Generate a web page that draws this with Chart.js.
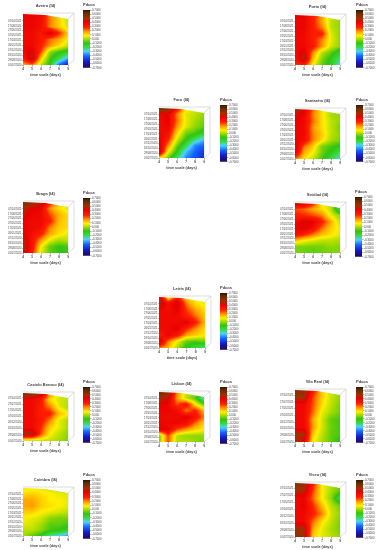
<!DOCTYPE html>
<html>
<head>
<meta charset="utf-8">
<title>Pdcca</title>
<script src="https://cdn.jsdelivr.net/npm/chart.js@4/dist/chart.umd.min.js"></script>
<style>
    html, body { margin: 0; padding: 0; background: #fff; }
    #page { position: relative; width: 381px; height: 550px; overflow: hidden; }
    canvas { position: absolute; }
</style>
</head>
<body>
<div id="page"></div>
<script>
const timeScales = ['4', '5', '6', '7', '8', '9'];
const datesLong = ['07/10/2021', '17/08/2021', '27/06/2021', '07/05/2021', '17/03/2021', '26/01/2021', '07/12/2020', '18/10/2020', '29/08/2020', '01/07/2020'];
const datesShort = ['07/10/2021', '27/07/2021', '17/05/2021', '07/03/2021', '26/12/2020', '18/10/2020', '29/08/2020', '01/07/2020'];
const barTicks = [0.7, 0.6, 0.5, 0.4, 0.3, 0.2, 0.1, 0, -0.1, -0.2, -0.3, -0.4, -0.5, -0.6, -0.7];

const colorValues = [-0.7, -0.55, -0.42, -0.3, -0.2, -0.1, 0, 0.08, 0.18, 0.28, 0.42, 0.5, 0.62, 0.7];
const colorList = ['#1c0a5a', '#1818c8', '#1464ff', '#50d0ff', '#38dc38', '#30c414', '#a8dc00', '#fff000', '#ff9800', '#ff2000', '#e80000', '#a03000', '#6a2c00', '#2a1a08'];

const aveiro = [
    [.42, .42, .38, .2, .12, .02],
    [.4, .4, .36, .2, .12, .02],
    [.4, .4, .36, .2, .12, .04],
    [.38, .38, .32, .45, .28, .12],
    [.38, .38, .32, .22, .16, .08],
    [.38, .38, .3, .18, .1, .02],
    [.38, .45, .25, -.02, -.1, -.15],
    [.3, .48, .12, -.08, -.2, -.35],
    [.15, .2, .02, -.12, -.42, -.55]
];
const porto = [
    [.42, .42, .3, .18, .04, 0],
    [.4, .4, .3, .16, .02, -.02],
    [.4, .4, .3, .2, .02, -.02],
    [.38, .38, .3, .3, .05, -.02],
    [.38, .38, .3, .2, .06, -.02],
    [.38, .38, .32, .18, .04, -.02],
    [.36, .45, .2, .02, -.06, -.16],
    [.34, .5, .14, -.03, -.12, -.24],
    [.25, .3, .08, -.06, -.14, -.3]
];
const faro = [
    [.6, .58, .35, .1, .05, .02],
    [.38, .42, .2, .05, .02, -.02],
    [.36, .42, .22, .06, 0, -.04],
    [.36, .4, .18, .05, -.02, -.06],
    [.38, .35, .12, -.04, -.08, -.15],
    [.42, .3, .05, -.1, -.22, -.32],
    [.45, .2, -.04, -.2, -.38, -.42],
    [.5, .08, -.12, -.32, -.42, -.5],
    [.1, -.05, -.22, -.38, -.45, -.52]
];
const santarem = [
    [.52, .45, .22, .1, .02, -.02],
    [.44, .4, .2, .1, 0, -.02],
    [.42, .38, .22, .1, .02, -.02],
    [.4, .38, .18, .1, .02, -.04],
    [.4, .38, .2, .12, .02, -.02],
    [.42, .36, .2, .1, 0, -.04],
    [.48, .22, .12, -.04, -.08, -.12],
    [.45, .15, .08, -.05, -.12, -.22],
    [.2, .1, .02, -.08, -.2, -.3]
];
const braga = [
    [.58, .56, .5, .32, .12, .06],
    [.5, .42, .4, .18, .1, .05],
    [.45, .4, .38, .25, .15, .1],
    [.42, .38, .38, .3, .14, .1],
    [.42, .38, .36, .2, .12, .1],
    [.42, .36, .3, .16, .1, .06],
    [.48, .34, .18, .06, 0, .02],
    [.5, .34, .08, -.06, -.1, -.08],
    [.5, .3, .05, -.06, -.1, -.1]
];
const setubal = [
    [.5, .45, .3, .08, 0, -.15],
    [.25, .22, .16, .1, .02, -.22],
    [.3, .28, .25, .2, .06, -.02],
    [.36, .44, .42, .3, .16, .02],
    [.4, .44, .36, .22, .12, .06],
    [.36, .3, .22, .14, .1, .05],
    [.14, .08, .05, .02, .02, 0],
    [-.04, -.04, -.05, -.04, -.02, -.03],
    [-.04, -.05, -.06, -.05, -.04, -.03]
];
const leiria = [
    [.55, .05, .3, .1, .06, .04],
    [.5, .35, .46, .2, .1, .06],
    [.4, .36, .42, .26, .16, .1],
    [.38, .38, .38, .3, .22, .12],
    [.38, .38, .38, .42, .3, .14],
    [.36, .38, .42, .28, .18, .1],
    [.3, .4, .32, .16, .12, .08],
    [.5, .2, .06, -.06, -.08, -.05],
    [.2, .14, 0, -.12, -.2, -.25]
];
const casteloBranco = [
    [.6, .58, .5, .2, .06, -.02],
    [.38, .38, .32, .1, .04, .02],
    [.38, .38, .3, .2, .06, 0],
    [.38, .38, .3, .3, .14, .08],
    [.38, .38, .32, .2, .06, 0],
    [.38, .38, .28, .12, .06, 0],
    [.5, .5, .24, .08, .02, -.02],
    [.02, 0, .02, .02, 0, -.04]
];
const lisbon = [
    [.6, .56, .2, .04, -.02, -.1],
    [.5, .45, .18, .02, -.06, -.3],
    [.42, .4, .24, .35, .1, -.05],
    [.4, .4, .38, .2, .3, .15],
    [.38, .38, .38, .42, .35, .2],
    [.4, .38, .4, .36, .22, .12],
    [.42, .4, .25, .18, .12, .08],
    [-.05, .25, .02, -.02, -.02, -.02],
    [-.05, .25, 0, .02, -.02, -.04]
];
const vilaReal = [
    [.55, .55, .32, .12, .04, -.02],
    [.5, .5, .25, .12, .03, -.02],
    [.38, .38, .24, .1, .02, -.04],
    [.38, .38, .22, .06, 0, -.05],
    [.38, .38, .16, .04, -.06, -.08],
    [.38, .38, .18, .04, -.05, -.08],
    [.5, .5, .12, .02, -.06, -.08],
    [.5, .42, .08, 0, -.06, -.12]
];
const coimbra = [
    [.06, .06, .05, .03, .02, -.05],
    [.1, .12, .1, .08, .06, .05],
    [.16, .16, .12, .08, .08, .06],
    [.16, .18, .12, .1, .08, .06],
    [.12, .12, .08, .06, .04, .02],
    [.08, .06, .04, -.02, -.04, -.04],
    [.06, .04, 0, -.06, -.06, -.08],
    [.02, .02, -.02, -.08, -.1, -.14],
    [0, -.06, -.12, -.26, -.3, -.38]
];
const viseu = [
    [.55, .55, .3, .08, .02, -.04],
    [.5, .48, .26, .08, 0, -.06],
    [.38, .4, .22, .08, -.02, -.2],
    [.38, .42, .28, .14, .02, -.04],
    [.38, .38, .3, .2, .04, -.02],
    [.38, .38, .22, .1, .02, -.04],
    [.52, .5, .16, .06, 0, -.04],
    [.52, .5, .12, .06, .02, -.02]
];

// where each panel sits on the page
const panels = [
    { name: 'Aveiro (I4)', rows: aveiro, dates: datesLong, x: 23, y: 14, w: 45, h: 51, bx: 83, by: 10, bh: 58 },
    { name: 'Porto (I4)', rows: porto, dates: datesLong, x: 295, y: 15, w: 45, h: 50, bx: 356, by: 10, bh: 58 },
    { name: 'Faro (I4)', rows: faro, dates: datesLong, x: 159, y: 108, w: 45, h: 50, bx: 220, by: 105, bh: 57 },
    { name: 'Santarém (I4)', rows: santarem, dates: datesLong, x: 295, y: 109, w: 45, h: 50, bx: 356, by: 105, bh: 57 },
    { name: 'Braga (I4)', rows: braga, dates: datesLong, x: 23, y: 202, w: 45, h: 51, bx: 83, by: 198, bh: 58 },
    { name: 'Setúbal (I4)', rows: setubal, dates: datesLong, x: 295, y: 203, w: 45, h: 50, bx: 355, by: 197, bh: 60 },
    { name: 'Leiria (I4)', rows: leiria, dates: datesLong, x: 159, y: 297, w: 46, h: 51, bx: 220, by: 293, bh: 57 },
    { name: 'Castelo Branco (I4)', rows: casteloBranco, dates: datesShort, x: 23, y: 393, w: 45, h: 48, bx: 83, by: 387, bh: 56 },
    { name: 'Lisbon (I4)', rows: lisbon, dates: datesLong, x: 159, y: 392, w: 45, h: 50, bx: 220, by: 387, bh: 57 },
    { name: 'Vila Real (I4)', rows: vilaReal, dates: datesShort, x: 295, y: 390, w: 45, h: 52, bx: 356, by: 387, bh: 56 },
    { name: 'Coimbra (I4)', rows: coimbra, dates: datesLong, x: 23, y: 488, w: 45, h: 48, bx: 83, by: 480, bh: 59 },
    { name: 'Viseu (I4)', rows: viseu, dates: datesShort, x: 295, y: 483, w: 45, h: 54, bx: 356, by: 480, bh: 58 }
];

const fontName = '"Liberation Sans", Arial, sans-serif';
const textColor = '#444';
const frameColor = '#cfcfcf';
const page = document.getElementById('page');

function hexToRgb(hex) {
    return [1, 3, 5].map(i => parseInt(hex.substr(i, 2), 16));
}

function colorFor(v) {
    let i = 0;
    while (i < colorValues.length - 2 && v > colorValues[i + 1]) i++;
    const t = Math.min(1, Math.max(0, (v - colorValues[i]) / (colorValues[i + 1] - colorValues[i])));
    const a = hexToRgb(colorList[i]);
    const b = hexToRgb(colorList[i + 1]);
    return a.map((c, k) => Math.round(c + (b[k] - c) * t));
}

// paints the surface from the dataset, pixel by pixel through the scales
const surfacePlugin = {
    id: 'surface',
    beforeDatasetsDraw(chart) {
        const area = chart.chartArea;
        const xs = chart.scales.x;
        const ys = chart.scales.y;
        const points = chart.data.datasets[0].data;
        const nCols = timeScales.length;
        const nRows = points.length / nCols;
        const w = Math.round(area.right - area.left);
        const h = Math.round(area.bottom - area.top);
        const off = document.createElement('canvas');
        off.width = w;
        off.height = h;
        const offCtx = off.getContext('2d');
        const img = offCtx.createImageData(w, h);
        for (let py = 0; py < h; py++) {
            const yv = Math.max(0, Math.min(nRows - 1, ys.getValueForPixel(area.top + py + 0.5)));
            const r0 = Math.min(nRows - 2, Math.floor(yv));
            for (let px = 0; px < w; px++) {
                const xv = Math.max(0, Math.min(nCols - 1, xs.getValueForPixel(area.left + px + 0.5)));
                const c0 = Math.min(nCols - 2, Math.floor(xv));
                const tx = xv - c0;
                const ty = yv - r0;
                const v = points[r0 * nCols + c0].v * (1 - tx) * (1 - ty)
                    + points[r0 * nCols + c0 + 1].v * tx * (1 - ty)
                    + points[(r0 + 1) * nCols + c0].v * (1 - tx) * ty
                    + points[(r0 + 1) * nCols + c0 + 1].v * tx * ty;
                const rgb = colorFor(v);
                const k = (py * w + px) * 4;
                img.data[k] = rgb[0];
                img.data[k + 1] = rgb[1];
                img.data[k + 2] = rgb[2];
                img.data[k + 3] = 255;
            }
        }
        offCtx.putImageData(img, 0, 0);

        const ctx = chart.ctx;
        // back of the 3d box
        ctx.save();
        ctx.strokeStyle = frameColor;
        ctx.lineWidth = 0.7;
        ctx.beginPath();
        ctx.moveTo(area.left, area.top - 1);
        ctx.lineTo(area.right + 6, area.top - 1);
        ctx.lineTo(area.right + 6, area.bottom - 5);
        ctx.lineTo(area.right, area.bottom);
        ctx.moveTo(area.right, area.top + 5);
        ctx.lineTo(area.right + 6, area.top - 1);
        ctx.moveTo(area.right, area.top + 5);
        ctx.lineTo(area.right, area.bottom);
        ctx.stroke();
        // top edge of the surface falls to the right
        ctx.beginPath();
        ctx.moveTo(area.left, area.top);
        ctx.lineTo(area.left + w * 0.5, area.top + 1);
        ctx.lineTo(area.right, area.top + 5);
        ctx.lineTo(area.right, area.bottom);
        ctx.lineTo(area.left, area.bottom);
        ctx.closePath();
        ctx.clip();
        ctx.drawImage(off, area.left, area.top);
        ctx.restore();
    }
};

function crearSuperficie(panel) {
    const nRows = panel.rows.length;
    const nDates = panel.dates.length;
    const topGap = nDates === 10 ? 1.4 : 0.8;
    const step = (nRows - 1) / (nDates - 1 + topGap);
    const dateTicks = panel.dates.map((d, i) => (nRows - 1) - (nDates - 1 - i) * step);

    const canvas = document.createElement('canvas');
    const marginX = 24;
    canvas.width = panel.w + marginX * 2;
    canvas.height = panel.h + 12 + 13;
    canvas.style.left = (panel.x - marginX) + 'px';
    canvas.style.top = (panel.y - 12) + 'px';
    page.appendChild(canvas);

    const points = [];
    panel.rows.forEach((row, r) => row.forEach((v, c) => points.push({ x: c, y: r, v: v })));

    new Chart(canvas.getContext('2d'), {
        type: 'scatter',
        data: { datasets: [{ data: points, pointRadius: 0, pointHitRadius: 0 }] },
        plugins: [surfacePlugin],
        options: {
            responsive: false,
            animation: false,
            // same padding both sides keeps the title over the plot, the dates sit in the left one
            layout: { padding: { left: marginX, right: marginX, top: 0, bottom: 0 } },
            plugins: {
                legend: { display: false },
                tooltip: { enabled: false },
                title: {
                    display: true,
                    text: panel.name,
                    color: textColor,
                    font: { family: fontName, size: 4, weight: 'bold', lineHeight: 1.2 },
                    padding: { top: 1.6, bottom: 5.6 }
                }
            },
            scales: {
                x: {
                    type: 'linear',
                    min: 0,
                    max: timeScales.length - 1,
                    afterFit: s => { s.height = 13; },
                    afterBuildTicks: s => { s.ticks = timeScales.map((t, i) => ({ value: i })); },
                    grid: { drawOnChartArea: false, tickLength: 1.5, color: '#555', lineWidth: 0.5 },
                    border: { display: false },
                    ticks: {
                        autoSkip: false,
                        maxRotation: 0,
                        padding: 0.5,
                        color: textColor,
                        font: { family: fontName, size: 3, weight: 'bold' },
                        callback: v => timeScales[v]
                    },
                    title: {
                        display: true,
                        text: 'time scale (days)',
                        color: textColor,
                        font: { family: fontName, size: 3.8, weight: 'bold' },
                        padding: { top: 1, bottom: 1 }
                    }
                },
                y: {
                    type: 'linear',
                    reverse: true,
                    min: 0,
                    max: nRows - 1,
                    afterFit: s => { s.width = 0; },
                    afterBuildTicks: s => { s.ticks = dateTicks.map(v => ({ value: v })); },
                    grid: { drawOnChartArea: false, tickLength: 1, color: '#555', lineWidth: 0.4 },
                    border: { display: false },
                    ticks: {
                        autoSkip: false,
                        maxRotation: 0,
                        // mirror avoids the clip on a zero width axis, negative padding puts the text left of the plot
                        mirror: true,
                        padding: -15,
                        color: textColor,
                        font: { family: fontName, size: 2.7 },
                        callback: v => {
                            const i = dateTicks.indexOf(v);
                            return i >= 0 ? panel.dates[i] : '';
                        }
                    }
                }
            }
        }
    });
}

function crearBarra(panel) {
    const canvas = document.createElement('canvas');
    canvas.width = 7 + 18;
    canvas.height = panel.bh + 8 + 2;
    canvas.style.left = panel.bx + 'px';
    canvas.style.top = (panel.by - 8) + 'px';
    page.appendChild(canvas);

    new Chart(canvas.getContext('2d'), {
        type: 'bar',
        data: {
            labels: ['Pdcca'],
            datasets: [{
                data: [[barTicks[barTicks.length - 1], barTicks[0]]],
                barPercentage: 1,
                categoryPercentage: 1,
                backgroundColor: context => {
                    const chart = context.chart;
                    if (!chart.chartArea) return colorList[0];
                    const y = chart.scales.y;
                    const bottom = y.getPixelForValue(barTicks[barTicks.length - 1]);
                    const top = y.getPixelForValue(barTicks[0]);
                    const gradient = chart.ctx.createLinearGradient(0, bottom, 0, top);
                    colorValues.forEach((v, i) => {
                        gradient.addColorStop((v - colorValues[0]) / (colorValues[colorValues.length - 1] - colorValues[0]), colorList[i]);
                    });
                    return gradient;
                }
            }]
        },
        options: {
            responsive: false,
            animation: false,
            layout: { padding: { left: 0, right: 0, top: 0, bottom: 2 } },
            plugins: {
                legend: { display: false },
                tooltip: { enabled: false },
                title: {
                    display: true,
                    text: 'Pdcca',
                    align: 'start',
                    color: '#4a3a4a',
                    font: { family: fontName, size: 4, weight: 'bold', lineHeight: 1.2 },
                    padding: { top: 0.5, bottom: 2.7 }
                }
            },
            scales: {
                x: { display: false },
                y: {
                    position: 'right',
                    min: barTicks[barTicks.length - 1],
                    max: barTicks[0],
                    afterFit: s => { s.width = 18; },
                    afterBuildTicks: s => { s.ticks = barTicks.map(v => ({ value: v })); },
                    grid: { drawOnChartArea: false, tickLength: 1.5, color: '#444', lineWidth: 0.4 },
                    border: { display: false },
                    ticks: {
                        autoSkip: false,
                        maxRotation: 0,
                        padding: 0.5,
                        color: textColor,
                        font: { family: fontName, size: 2.8 },
                        callback: v => v === 0 ? '0.000' : v.toFixed(4)
                    }
                }
            }
        }
    });
}

panels.forEach(panel => {
    crearSuperficie(panel);
    crearBarra(panel);
});
</script>
</body>
</html>
